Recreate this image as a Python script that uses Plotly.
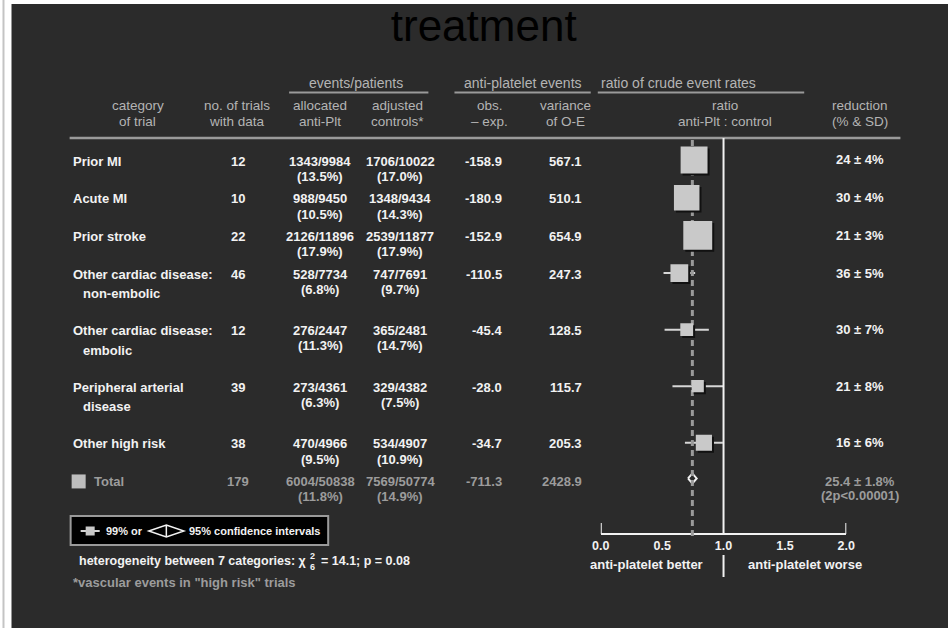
import plotly.graph_objects as go

# ---------------- data ----------------
category_line1 = ["Prior MI", "Acute MI", "Prior stroke", "Other cardiac disease:",
                  "Other cardiac disease:", "Peripheral arterial", "Other high risk"]
category_line2 = ["", "", "", "non-embolic", "embolic", "disease", ""]
n_trials = [12, 10, 22, 46, 12, 39, 38]
antiplt_events = [1343, 988, 2126, 528, 276, 273, 470]
antiplt_patients = [9984, 9450, 11896, 7734, 2447, 4361, 4966]
antiplt_pct = [13.5, 10.5, 17.9, 6.8, 11.3, 6.3, 9.5]
control_events = [1706, 1348, 2539, 747, 365, 329, 534]
control_patients = [10022, 9434, 11877, 7691, 2481, 4382, 4907]
control_pct = [17.0, 14.3, 17.9, 9.7, 14.7, 7.5, 10.9]
obs_minus_exp = [-158.9, -180.9, -152.9, -110.5, -45.4, -28.0, -34.7]
variance_oe = [567.1, 510.1, 654.9, 247.3, 128.5, 115.7, 205.3]
reduction_pct = [24, 30, 21, 36, 30, 21, 16]
reduction_sd = [4, 4, 3, 5, 7, 8, 6]

total_trials = 179
total_antiplt = (6004, 50838, 11.8)
total_control = (7569, 50774, 14.9)
total_oe = -711.3
total_var = 2428.9
total_reduction = 25.4
total_sd = 1.8
total_p = "2p&lt;0.00001"

axis_ticks = [0.0, 0.5, 1.0, 1.5, 2.0]

# ---------------- page geometry (screen pixels) ----------------
W, H = 948, 628
INSET_L, INSET_R = 10.5, 9.5     # horizontal inset of the plotting area on the page
PLOT_W = W - INSET_L - INSET_R

row_slot = [0, 1, 2, 3, 4.5, 6, 7.5]
total_slot = 8.5
ROW_TOP, ROW_PITCH = 161, 37.7

FONT = "Liberation Sans, Arial, Helvetica, sans-serif"
BG = "#2b2b2b"
WHITE = "#f2f2f2"
HEAD = "#b4b4b4"
RULE = "#9a9a9a"
GREY_TOTAL = "#9c9c9c"
BOX = "#c9c9c9"

X0_PX, X2_PX = 601, 846      # screen x of ratio 0 .. 2
AXIS_Y = 534
TOP_RULE_Y = 138


def row_y(slot):
    return ROW_TOP + ROW_PITCH * slot


def px(x):
    return (x - INSET_L) / PLOT_W


def py(y):
    return 1 - y / H


fig = go.Figure()


def text(x, y, s, color=WHITE, size=13, anchor="center", bold=True):
    fig.add_annotation(x=px(x), y=py(y), xref="paper", yref="paper", text=s,
                       showarrow=False, xanchor=anchor, yanchor="middle",
                       borderpad=0,
                       font=dict(family=FONT, size=size, color=color,
                                 weight="bold" if bold else "normal"))


def hline_paper(x0, x1, y, color=RULE, width=2):
    fig.add_shape(type="line", xref="paper", yref="paper",
                  x0=px(x0), x1=px(x1), y0=py(y), y1=py(y),
                  line=dict(color=color, width=width))


# dark panel with a white strip and thin grey rule on the left
fig.add_shape(type="rect", xref="paper", yref="paper", x0=px(13), x1=px(952),
              y0=py(632), y1=py(4), fillcolor=BG, line=dict(width=0), layer="below")
fig.add_shape(type="line", xref="paper", yref="paper", x0=px(5), x1=px(5),
              y0=py(632), y1=py(-4), line=dict(color="#c4c4c4", width=2), layer="below")

# ---------------- column headers ----------------
text(357, 83, "events/patients", HEAD, 14, bold=False)
hline_paper(290, 429, 92.5)
text(523, 83, "anti-platelet events", HEAD, 14, bold=False)
hline_paper(455, 591, 92.5)
text(600, 83, "ratio of crude event rates", HEAD, 14, anchor="left", bold=False)
hline_paper(598, 804, 92.5)

headers = [
    (139, "category", "of trial"),
    (238, "no. of trials", "with data"),
    (321, "allocated", "anti-Plt"),
    (398, "adjusted", "controls*"),
    (490, "obs.", "– exp."),
    (566, "variance", "of O-E"),
    (725, "ratio", "anti-Plt : control"),
    (860, "reduction", "(% & SD)"),
]
for hx, l1, l2 in headers:
    text(hx, 106, l1, HEAD, 13.5, bold=False)
    text(hx, 121.5, l2, HEAD, 13.5, bold=False)
hline_paper(71, 900, TOP_RULE_Y, RULE, 2.5)

# ---------------- table rows ----------------
for i in range(len(category_line1)):
    y = row_y(row_slot[i])
    text(73, y, category_line1[i], anchor="left")
    if category_line2[i]:
        text(83, y + 19.7, category_line2[i], anchor="left")
    text(239, y, str(n_trials[i]))
    text(321, y, f"{antiplt_events[i]}/{antiplt_patients[i]}")
    text(321, y + 15.3, f"({antiplt_pct[i]:.1f}%)")
    text(401, y, f"{control_events[i]}/{control_patients[i]}")
    text(401, y + 15.3, f"({control_pct[i]:.1f}%)")
    text(503.5, y, f"{obs_minus_exp[i]:.1f}", anchor="right")
    text(583, y, f"{variance_oe[i]:.1f}", anchor="right")
    text(860, y - 1, f"{reduction_pct[i]} ± {reduction_sd[i]}%")

# total row
yt = row_y(total_slot)
fig.add_shape(type="rect", xref="paper", yref="paper", x0=px(73), x1=px(87),
              y0=py(yt - 7), y1=py(yt + 7), fillcolor="#bdbdbd", line=dict(width=0))
text(94, yt, "Total", GREY_TOTAL, anchor="left")
text(239, yt, str(total_trials), GREY_TOTAL)
text(321, yt, f"{total_antiplt[0]}/{total_antiplt[1]}", GREY_TOTAL)
text(321, yt + 15.3, f"({total_antiplt[2]:.1f}%)", GREY_TOTAL)
text(401, yt, f"{total_control[0]}/{total_control[1]}", GREY_TOTAL)
text(401, yt + 15.3, f"({total_control[2]:.1f}%)", GREY_TOTAL)
text(503.5, yt, f"{total_oe:.1f}", GREY_TOTAL, anchor="right")
text(583, yt, f"{total_var:.1f}", GREY_TOTAL, anchor="right")
text(860, yt, f"{total_reduction:.1f} ± {total_sd:.1f}%", GREY_TOTAL)
text(860, yt + 14.5, f"({total_p})", GREY_TOTAL)

# ---------------- forest plot ----------------
total_ratio = 1 - total_reduction / 100

# reference lines: no effect (1.0) and overall ratio
fig.add_shape(type="line", xref="x", yref="y", x0=1, x1=1, y0=TOP_RULE_Y, y1=AXIS_Y,
              line=dict(color=WHITE, width=2))
fig.add_shape(type="line", xref="x", yref="y", x0=total_ratio, x1=total_ratio,
              y0=TOP_RULE_Y + 2, y1=AXIS_Y + 2, line=dict(color=RULE, width=3, dash="6px,4px"))

Z99 = 2.576
for i in range(len(reduction_pct)):
    r = 1 - reduction_pct[i] / 100
    half = Z99 * reduction_sd[i] / 100
    y = row_y(row_slot[i]) - 1
    fig.add_trace(go.Scatter(x=[r - half, r + half], y=[y, y], mode="lines",
                             line=dict(color="#d6d6d6", width=2), hoverinfo="skip",
                             showlegend=False))
    s = 1.13 * variance_oe[i] ** 0.5
    fig.add_shape(type="rect", xref="x", yref="y", xsizemode="pixel", xanchor=r,
                  x0=-s / 2 + 2, x1=s / 2 + 2, y0=y - s / 2 + 2, y1=y + s / 2 + 2,
                  fillcolor="#111111", line=dict(width=0))
    fig.add_shape(type="rect", xref="x", yref="y", xsizemode="pixel", xanchor=r,
                  x0=-s / 2, x1=s / 2, y0=y - s / 2, y1=y + s / 2,
                  fillcolor=BOX, line=dict(width=0))

# overall 95% CI diamond
half95 = 1.96 * total_sd / 100
yd = yt - 3
fig.add_trace(go.Scatter(
    x=[total_ratio - half95, total_ratio, total_ratio + half95, total_ratio, total_ratio - half95],
    y=[yd, yd - 5, yd, yd + 5, yd], mode="lines", fill="toself", fillcolor=BG,
    line=dict(color=WHITE, width=2), hoverinfo="skip", showlegend=False))

# axis end ticks and the better/worse divider
for xv in (axis_ticks[0], axis_ticks[-1]):
    fig.add_shape(type="line", xref="x", yref="y", x0=xv, x1=xv, y0=AXIS_Y, y1=AXIS_Y - 11,
                  line=dict(color=WHITE, width=2))
fig.add_shape(type="line", xref="x", yref="y", x0=1, x1=1, y0=555, y1=577,
              line=dict(color=WHITE, width=2))
text(647, 564, "anti-platelet better")
text(805, 564, "anti-platelet worse")

# ---------------- legend box & notes ----------------
fig.add_shape(type="rect", xref="paper", yref="paper", x0=px(72), x1=px(329),
              y0=py(516), y1=py(545), fillcolor="#000000", line=dict(color=RULE, width=2))
hline_paper(82, 101, 531, "#d6d6d6", 2)
fig.add_shape(type="rect", xref="paper", yref="paper", x0=px(87), x1=px(96),
              y0=py(526.5), y1=py(535.5), fillcolor=BOX, line=dict(width=0))
text(106, 531, "99% or", WHITE, 11, anchor="left")
fig.add_shape(type="path", xref="paper", yref="paper",
              path=(f"M {px(150)},{py(531)} L {px(167.5)},{py(525)} L {px(185)},{py(531)} "
                    f"L {px(167.5)},{py(537)} Z M {px(167.5)},{py(525)} L {px(167.5)},{py(537)}"),
              line=dict(color=WHITE, width=1.5))
text(189, 531, "95% confidence intervals", WHITE, 11, anchor="left")

text(309, 561, "heterogeneity between 7 categories: χ", WHITE, 12.5, anchor="right")
text(309.5, 556, "2", WHITE, 9, anchor="left")
text(309.5, 567, "6", WHITE, 9, anchor="left")
text(321, 561, "= 14.1; p = 0.08", WHITE, 12.5, anchor="left")
text(73, 582, '*vascular events in "high risk" trials', GREY_TOTAL, 13, anchor="left")

# ---------------- axes ----------------
fig.update_layout(
    width=W, height=H,
    margin=dict(l=0, r=0, t=0, b=0),
    paper_bgcolor="white", plot_bgcolor="rgba(0,0,0,0)",
    title=dict(text="treatment", x=px(484), y=py(25.5), xanchor="center", yanchor="middle",
               font=dict(family=FONT, size=44, color="#000000")),
    xaxis=dict(domain=[px(X0_PX), px(X2_PX)], range=[0, 2], anchor="free",
               position=py(AXIS_Y), showgrid=False, zeroline=False,
               showline=True, linecolor=WHITE, linewidth=2,
               tickvals=axis_ticks, tickformat=".1f", ticks="",
               tickfont=dict(family=FONT, size=12.5, color=WHITE, weight="bold"),
               fixedrange=True),
    yaxis=dict(domain=[0, 1], range=[H, 0], visible=False, fixedrange=True),
    showlegend=False,
)

fig.write_html("out.html")
